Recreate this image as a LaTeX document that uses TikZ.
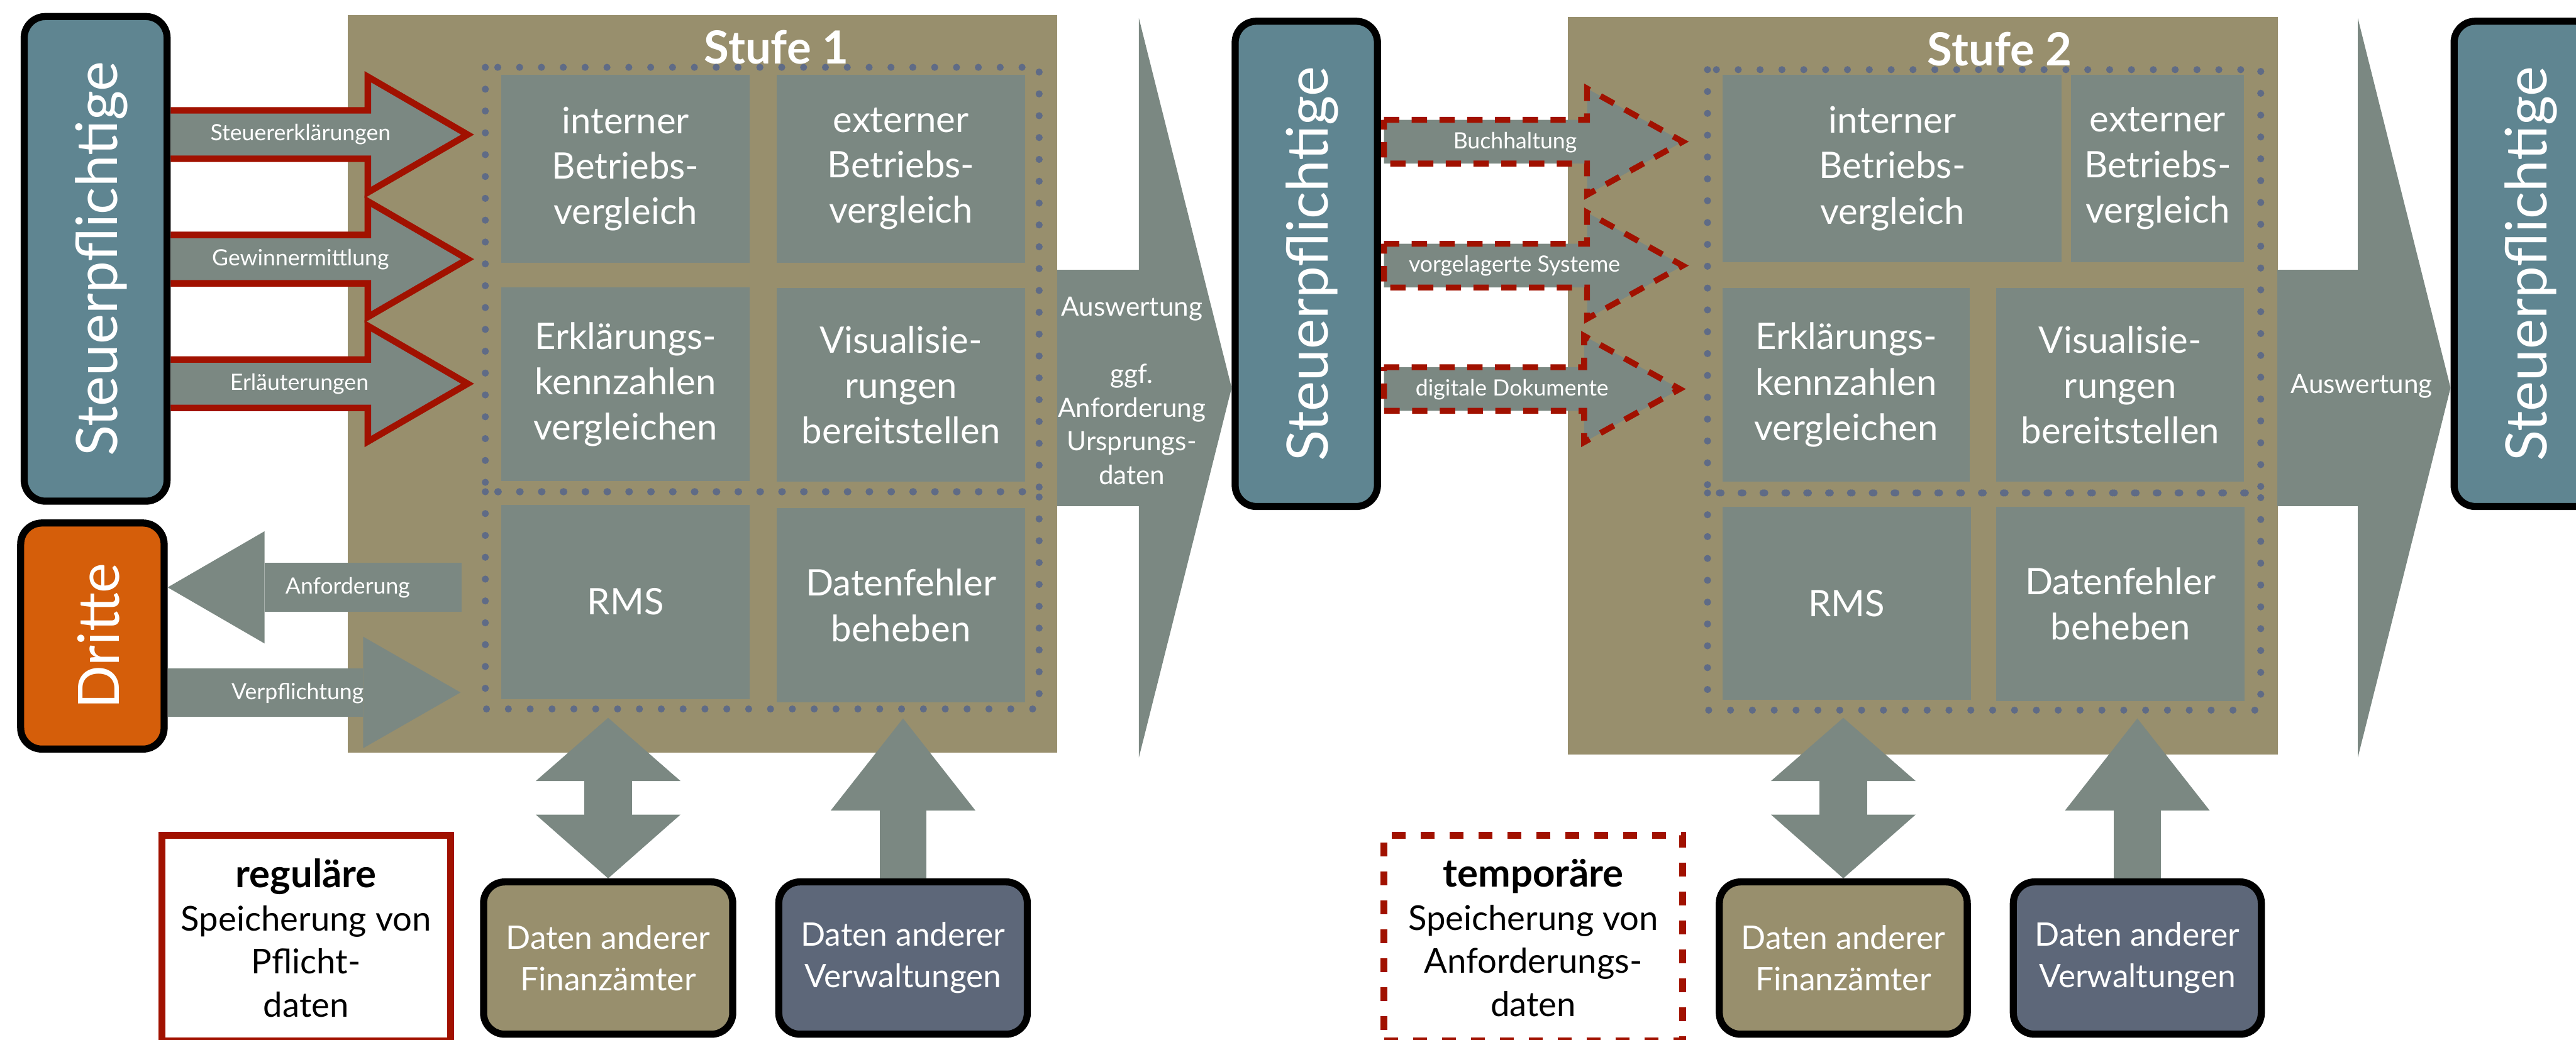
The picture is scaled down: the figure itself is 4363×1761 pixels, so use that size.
\documentclass[tikz,border=0pt]{standalone}
\usepackage{fontspec}
\setmainfont{Lato}
\usepackage{tikz}
\usetikzlibrary{arrows.meta,calc}

\definecolor{tanc}{RGB}{152,143,109}
\definecolor{grayc}{RGB}{123,136,130}
\definecolor{stpc}{RGB}{95,133,145}
\definecolor{orangec}{RGB}{213,94,10}
\definecolor{slatec}{RGB}{93,103,121}
\definecolor{redc}{RGB}{161,17,0}
\definecolor{dotc}{RGB}{95,107,134}

\newcommand{\flowarrow}[7][]{%
  \draw[#2] ($(#3)+(0,-#5)$) -- ($(#4)+(-#7,-#5)$) -- ($(#4)+(-#7,-#6)$) -- (#4)
    -- ($(#4)+(-#7,#6)$) -- ($(#4)+(-#7,#5)$) -- ($(#3)+(0,#5)$) #1;}

\begin{document}
\begin{tikzpicture}[x=0.1mm,y=-0.1mm]
        \tikzstyle{panel}=[fill=tanc, inner sep=0pt]
        \tikzstyle{cell}=[fill=grayc, text=white, align=center, inner sep=0pt, font=\fontsize{17.6}{21.9}\selectfont]
        \tikzstyle{dotframe}=[draw=dotc, line width=1.2mm, line cap=round, dash pattern=on 0pt off 3.7mm]
        \tikzstyle{roundbox}=[draw=black, line width=1.2mm, rounded corners=3.6mm, inner sep=0pt]
        \tikzstyle{sidetxt}=[text=white, rotate=90, font=\fontsize{27.5}{32}\selectfont]
        \tikzstyle{datatxt}=[text=white, align=center, font=\fontsize{15.6}{20}\selectfont]
        \tikzstyle{legend}=[draw=redc, line width=1.2mm, fill=white, align=center, inner sep=0pt, font=\fontsize{16.5}{20.8}\selectfont]
        \tikzstyle{arrtxt}=[text=white, font=\fontsize{10.8}{13}\selectfont]
        \tikzstyle{redarrow}=[draw=redc, fill=grayc, line width=1.1mm]
        \tikzstyle{dasharrow}=[draw=redc, fill=grayc, line width=1mm, dash pattern=on 2.6mm off 2.1mm]
        \tikzstyle{grayarrow}=[draw=grayc]
        \tikzstyle{titletxt}=[text=white, font=\fontsize{22}{26}\selectfont\bfseries]
        \tikzstyle{evaltxt}=[text=white, align=center, font=\fontsize{12.8}{16.2}\selectfont]

        \path[use as bounding box, fill=white] (0,0) rectangle (4363,1761);

        \node[panel, minimum width=120.2mm, minimum height=124.9mm] (stufe1) at (1190,650.5) {};
        \node[panel, minimum width=120.3mm, minimum height=124.9mm] (stufe2) at (3256.5,653.5) {};
        \node[titletxt] (title1) at (1315,80) {Stufe 1};
        \node[titletxt] (title2) at (3387,83) {Stufe 2};

        \node[cell, minimum width=42.1mm, minimum height=31.8mm] (intern1) at (1059.5,286) {interner\\Betriebs-\\vergleich};
        \node[cell, minimum width=42mm, minimum height=31.8mm] (extern1) at (1526,286) {externer\\Betriebs-\\vergleich};
        \node[cell, minimum width=42.1mm, minimum height=32.8mm] (erkl1) at (1059.5,651) {Erklärungs-\\kennzahlen\\vergleichen};
        \node[cell, minimum width=42mm, minimum height=32.8mm] (visu1) at (1526,652) {Visualisie-\\rungen\\bereitstellen};
        \node[cell, minimum width=42.1mm, minimum height=32.9mm] (rms1) at (1059.5,1019.5) {RMS};
        \node[cell, minimum width=42mm, minimum height=32.9mm] (fehler1) at (1526,1025.5) {Datenfehler\\beheben};

        \node[cell, minimum width=57.4mm, minimum height=31.7mm] (intern2) at (3205,285.5) {interner\\Betriebs-\\vergleich};
        \node[cell, minimum width=29.3mm, minimum height=31.7mm] (extern2) at (3654.5,285.5) {externer\\Betriebs-\\vergleich};
        \node[cell, minimum width=41.8mm, minimum height=32.8mm] (erkl2) at (3127,652) {Erklärungs-\\kennzahlen\\vergleichen};
        \node[cell, minimum width=42mm, minimum height=32.8mm] (visu2) at (3591,652) {Visualisie-\\rungen\\bereitstellen};
        \node[cell, minimum width=42.1mm, minimum height=32.8mm] (rms2) at (3127.5,1022) {RMS};
        \node[cell, minimum width=42.1mm, minimum height=33mm] (fehler2) at (3591.5,1023) {Datenfehler\\beheben};

        \draw[dotframe] (822,114) rectangle (1760,833);
        \draw[dotframe] (822,833) rectangle (1760,1201);
        \draw[dotframe] (2892,118) rectangle (3829,835);
        \draw[dotframe] (2892,835) rectangle (3829,1203);

        \node[roundbox, fill=stpc, minimum width=24.2mm, minimum height=82.1mm] (stp1) at (162,438.5) {};
        \node[sidetxt] (stp1txt) at ($(stp1.center)+(10,0)$) {Steuerpflichtige};
        \node[roundbox, fill=orangec, minimum width=24.3mm, minimum height=38.3mm] (dritte) at (156.5,1077.5) {};
        \node[sidetxt] (drittetxt) at ($(dritte.center)+(10,0)$) {Dritte};
        \node[roundbox, fill=stpc, minimum width=24.1mm, minimum height=82.2mm] (stp2) at (2212.5,447) {};
        \node[sidetxt] (stp2txt) at ($(stp2.center)+(10,0)$) {Steuerpflichtige};
        \node[roundbox, fill=stpc, minimum width=24.1mm, minimum height=82.2mm] (stp3) at (4277,447) {};
        \node[sidetxt] (stp3txt) at ($(stp3.center)+(10,0)$) {Steuerpflichtige};

        \node[roundbox, datatxt, fill=tanc, minimum width=42.2mm, minimum height=25.8mm] (fa1) at (1030,1623) {Daten anderer\\Finanzämter};
        \node[roundbox, datatxt, fill=slatec, minimum width=42.1mm, minimum height=25.8mm] (vw1) at (1529.5,1623) {Daten anderer\\Verwaltungen};
        \node[roundbox, datatxt, fill=tanc, minimum width=42mm, minimum height=25.8mm] (fa2) at (3122,1623) {Daten anderer\\Finanzämter};
        \node[roundbox, datatxt, fill=slatec, minimum width=42mm, minimum height=25.8mm] (vw2) at (3620,1623) {Daten anderer\\Verwaltungen};

        \node[legend, minimum width=48.9mm, minimum height=34.8mm] (regular) at (518.5,1589) {{\fontsize{18.7}{20.8}\selectfont\bfseries reguläre}\\Speicherung von\\Pflicht-\\daten};
        \node[legend, line width=1.1mm, dash pattern=on 2.4mm off 2.5mm, minimum width=50.6mm, minimum height=34.8mm] (temporary) at (2597,1589) {{\fontsize{18.7}{20.8}\selectfont\bfseries temporäre}\\Speicherung von\\Anforderungs-\\daten};

        \coordinate (tip1) at (792,228);
        \coordinate (tip2) at (792,439);
        \coordinate (tip3) at (792,650);
        \flowarrow{redarrow}{stp1.east |- tip1}{tip1}{41}{98}{169}
        \flowarrow{redarrow}{stp1.east |- tip2}{tip2}{41}{98}{169}
        \flowarrow{redarrow}{stp1.east |- tip3}{tip3}{41}{98}{169}
        \node[arrtxt] (lbl1) at (509,228) {Steuererklärungen};
        \node[arrtxt] (lbl2) at (509,439) {Gewinnermittlung};
        \node[arrtxt] (lbl3) at (507,650) {Erläuterungen};

        \coordinate (tip4) at (2850,240);
        \coordinate (tip5) at (2850,450);
        \coordinate (tip6) at (2845,659);
        \coordinate (from4) at ($(stp2.east |- tip4)+(5,0)$);
        \coordinate (from5) at ($(stp2.east |- tip5)+(5,0)$);
        \coordinate (from6) at ($(stp2.east |- tip6)+(5,0)$);
        \flowarrow[-- cycle]{dasharrow}{from4}{tip4}{37}{90}{162}
        \flowarrow[-- cycle]{dasharrow}{from5}{tip5}{37}{90}{162}
        \flowarrow[-- cycle]{dasharrow}{from6}{tip6}{37}{90}{162}
        \node[arrtxt] (lbl4) at (2566,241) {Buchhaltung};
        \node[arrtxt] (lbl5) at (2565,450) {vorgelagerte Systeme};
        \node[arrtxt] (lbl6) at (2561,660) {digitale Dokumente};

        \coordinate (anf) at (782,995);
        \draw[grayarrow, line width=8.3mm, -{Triangle[length=16.4mm, width=19mm, line width=0pt]}] (anf) -- (anf -| dritte.east);
        \node[arrtxt] (lbl7) at (589,995) {Anforderung};
        \coordinate (verp) at (780,1173);
        \draw[grayarrow, line width=8.2mm, -{Triangle[length=16.5mm, width=18.9mm, line width=0pt]}] (verp -| dritte.east) -- (verp);
        \node[arrtxt] (lbl8) at (504,1175) {Verpflichtung};

        \coordinate (eval1) at (1791,657);
        \draw[grayarrow, line width=40.1mm, -{Triangle[length=15.7mm, width=125.2mm, line width=0pt]}] (eval1) -- (eval1 -| stp2.west);
        \node[evaltxt] (evaltxt1) at (1917,662) {Auswertung\\[16.2pt]ggf.\\Anforderung\\Ursprungs-\\daten};
        \coordinate (eval2) at (3857,657);
        \draw[grayarrow, line width=40.1mm, -{Triangle[length=15.7mm, width=125.2mm, line width=0pt]}] (eval2) -- (eval2 -| stp3.west);
        \node[evaltxt] (evaltxt2) at (4000,654) {Auswertung};

        \coordinate (up1) at (1030,1216);
        \coordinate (up2) at (1530,1217);
        \coordinate (up3) at (3122,1216);
        \coordinate (up4) at (3620,1217);
        \draw[grayarrow, line width=8mm, {Triangle[length=10.8mm, width=24.5mm, line width=0pt]}-{Triangle[length=10.7mm, width=24.5mm, line width=0pt]}] (fa1.north) -- (up1);
        \draw[grayarrow, line width=7.9mm, -{Triangle[length=15.6mm, width=24.5mm, line width=0pt]}] (vw1.north) -- (vw1.north |- up2);
        \draw[grayarrow, line width=8mm, {Triangle[length=10.8mm, width=24.5mm, line width=0pt]}-{Triangle[length=10.7mm, width=24.5mm, line width=0pt]}] (fa2.north) -- (up3);
        \draw[grayarrow, line width=7.9mm, -{Triangle[length=15.6mm, width=24.5mm, line width=0pt]}] (vw2.north) -- (vw2.north |- up4);
\end{tikzpicture}
\end{document}
